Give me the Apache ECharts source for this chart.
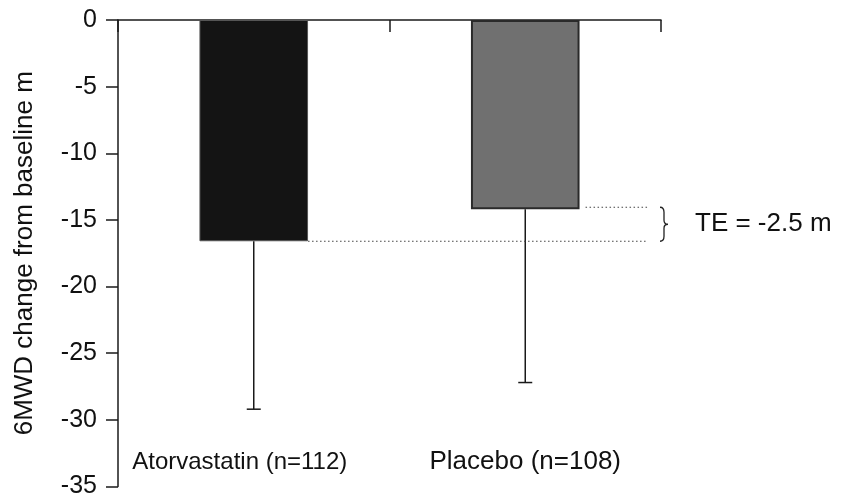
<!DOCTYPE html>
<html>
<head>
<meta charset="utf-8">
<script src="https://cdn.jsdelivr.net/npm/echarts@6/dist/echarts.min.js"></script>
<style>
  html, body { margin: 0; padding: 0; background: #fff; }
  #chart { width: 850px; height: 499px; }
</style>
</head>
<body>
<div id="chart"></div>
<script>
// data
var categories = ['Atorvastatin (n=112)', 'Placebo (n=108)'];
var meanChange = [-16.6, -14.2];
var errorLow = [-29.2, -27.2];
var yTicks = { min: -35, max: 0, interval: 5 };
var teLabel = 'TE = -2.5 m';

var barColors = ['#141414', '#707070'];
var barBorders = ['#555555', '#2a2a2a'];
var labelPads = [[0, 28, 0, 0], [0, 0, 0, 0]];
var labelSizes = [24, 26];
var font = 'Liberation Sans, Arial, sans-serif';

var chart = echarts.init(document.getElementById('chart'));

var axisLine = { lineStyle: { color: '#1a1a1a', width: 1.5 } };

var barData = [];
for (var i = 0; i < meanChange.length; i++) {
    barData.push({
        value: meanChange[i],
        itemStyle: { color: barColors[i], borderColor: barBorders[i], borderWidth: i == 0 ? 1 : 2 }
    });
}

var errData = [];
for (var j = 0; j < meanChange.length; j++) {
    errData.push([j, meanChange[j], errorLow[j]]);
}

var bottomCats = [];
for (var k = 0; k < categories.length; k++) {
    bottomCats.push({ value: categories[k], textStyle: { padding: labelPads[k], fontSize: labelSizes[k] } });
}

var option = {
    backgroundColor: '#fff',
    animation: false,
    grid: { left: 118, right: 189, top: 20, bottom: 11 },
    xAxis: [
        {
            type: 'category',
            position: 'top',
            data: categories,
            axisLine: axisLine,
            axisTick: { show: true, inside: true, length: 12, lineStyle: { color: '#1a1a1a', width: 1.5 } },
            axisLabel: { show: false },
            splitLine: { show: false }
        },
        {
            type: 'category',
            position: 'bottom',
            data: bottomCats,
            axisLine: { show: false },
            axisTick: { show: false },
            axisLabel: { inside: true, interval: 0, margin: 12, color: '#111', fontSize: 24, fontFamily: font },
            splitLine: { show: false }
        }
    ],
    yAxis: {
        type: 'value',
        min: yTicks.min,
        max: yTicks.max,
        interval: yTicks.interval,
        name: '6MWD change from baseline m',
        nameLocation: 'middle',
        nameGap: 80,
        nameTextStyle: { color: '#111', fontSize: 26, fontFamily: font },
        axisLine: { show: true, lineStyle: { color: '#1a1a1a', width: 1.5 } },
        axisTick: { show: true, length: 12, lineStyle: { color: '#1a1a1a', width: 1.5 } },
        axisLabel: { color: '#111', fontSize: 25, fontFamily: font, margin: 21 },
        splitLine: { show: false }
    },
    series: [
        {
            name: '6MWD',
            type: 'bar',
            barWidth: '40%',
            data: barData
        },
        {
            // error bars, downward only
            name: 'error',
            type: 'custom',
            data: errData,
            z: 3,
            renderItem: function (params, api) {
                var top = api.coord([api.value(0), api.value(1)]);
                var bot = api.coord([api.value(0), api.value(2)]);
                var s = { stroke: '#1a1a1a', lineWidth: 1.5 };
                return {
                    type: 'group',
                    children: [
                        { type: 'line', shape: { x1: top[0], y1: top[1], x2: bot[0], y2: bot[1] }, style: s },
                        { type: 'line', shape: { x1: bot[0] - 7, y1: bot[1], x2: bot[0] + 7, y2: bot[1] }, style: s }
                    ]
                };
            }
        },
        {
            // dotted guides, brace and treatment effect text
            name: 'te',
            type: 'custom',
            data: [[0, meanChange[0], meanChange[1]]],
            clip: false,
            z: 3,
            renderItem: function (params, api) {
                var cs = params.coordSys;
                var band = api.size([1, 0])[0];
                var halfBar = band * 0.4 / 2;
                var a = api.coord([0, api.value(1)]);
                var p = api.coord([1, api.value(2)]);
                var right = cs.x + cs.width;
                var lineEnd = right - 13;
                var dot = { stroke: '#444', lineWidth: 1.2, lineDash: [1.5, 2.5] };
                var bx = right - 1, y1 = p[1] - 2, y2 = a[1], ym = (y1 + y2) / 2;
                var brace = 'M' + bx + ' ' + y1 +
                    ' Q' + (bx + 4) + ' ' + y1 + ' ' + (bx + 4) + ' ' + (y1 + 5) +
                    ' L' + (bx + 4) + ' ' + (ym - 4) +
                    ' Q' + (bx + 4) + ' ' + ym + ' ' + (bx + 8) + ' ' + ym +
                    ' Q' + (bx + 4) + ' ' + ym + ' ' + (bx + 4) + ' ' + (ym + 4) +
                    ' L' + (bx + 4) + ' ' + (y2 - 5) +
                    ' Q' + (bx + 4) + ' ' + y2 + ' ' + bx + ' ' + y2;
                return {
                    type: 'group',
                    children: [
                        { type: 'line', shape: { x1: a[0] + halfBar, y1: a[1], x2: lineEnd, y2: a[1] }, style: dot },
                        { type: 'line', shape: { x1: p[0] + halfBar + 6, y1: p[1] - 2, x2: lineEnd, y2: p[1] - 2 }, style: dot },
                        { type: 'path', shape: { pathData: brace }, style: { fill: null, stroke: '#222', lineWidth: 1.3 } },
                        {
                            type: 'text',
                            x: right + 34,
                            y: ym,
                            style: { text: teLabel, fill: '#111', fontSize: 26, fontFamily: font, verticalAlign: 'middle', align: 'left' }
                        }
                    ]
                };
            }
        }
    ]
};
chart.setOption(option);
</script>
</body>
</html>
